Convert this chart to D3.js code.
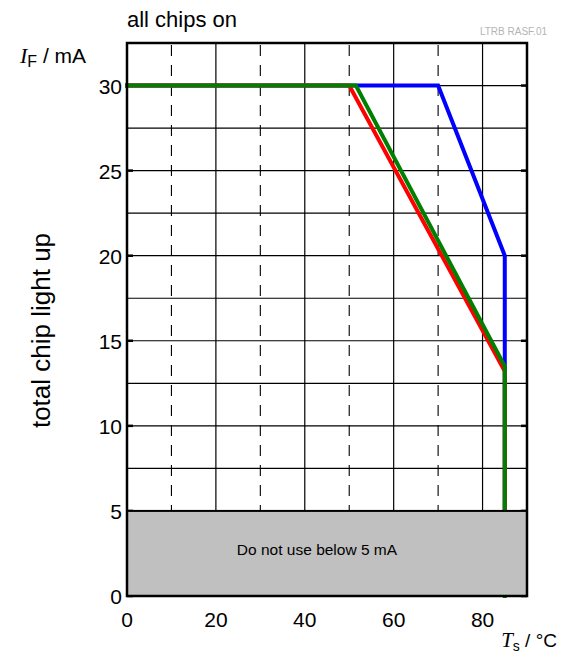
<!DOCTYPE html>
<html>
<head>
<meta charset="utf-8">
<script src="https://cdn.jsdelivr.net/npm/d3@7"></script>
<style>
  body { margin: 0; background: #fff; }
  svg { font-family: "Liberation Sans", Arial, sans-serif; }
</style>
</head>
<body>
<div id="chart"></div>
<script>
  // temperatures (°C) and currents (mA)
  const blueT = [0, 70, 85, 85];
  const blueI = [30, 30, 20, 5];
  const redT = [0, 50, 85, 85];
  const redI = [30, 30, 13.2, 5];
  const greenT = [0, 51.5, 85, 85];
  const greenI = [30, 30, 13.5, 0];

  const xTicks = [0, 20, 40, 60, 80];
  const xDashed = [10, 30, 50, 70];
  const yTicks = [0, 5, 10, 15, 20, 25, 30];
  const yGrid = [2.5, 5, 7.5, 10, 12.5, 15, 17.5, 20, 22.5, 25, 27.5, 30];
  const minCurrent = 5;

  const width = 565, height = 661;
  const plotL = 127, plotR = 527, plotT = 43, plotB = 596;

  const x = d3.scaleLinear().domain([0, 90]).range([plotL, plotR]);
  const y = d3.scaleLinear().domain([0, 32.5]).range([plotB, plotT]);

  const svg = d3.select('#chart').append('svg')
    .attr('width', width)
    .attr('height', height);

  // grid
  svg.selectAll('.hgrid').data(yGrid).enter().append('line')
    .attr('x1', plotL).attr('x2', plotR)
    .attr('y1', d => y(d)).attr('y2', d => y(d))
    .attr('stroke', '#000').attr('stroke-width', 1.2);

  svg.selectAll('.vgrid').data(xTicks.filter(d => d > 0)).enter().append('line')
    .attr('x1', d => x(d)).attr('x2', d => x(d))
    .attr('y1', plotT).attr('y2', plotB)
    .attr('stroke', '#000').attr('stroke-width', 1.2);

  svg.selectAll('.vdash').data(xDashed).enter().append('line')
    .attr('x1', d => x(d)).attr('x2', d => x(d))
    .attr('y1', plotT + 2).attr('y2', plotB)
    .attr('stroke', '#000').attr('stroke-width', 1.1)
    .attr('stroke-dasharray', '11,9');

  // ticks on the frame
  svg.selectAll('.ltick').data(yTicks).enter().append('line')
    .attr('x1', plotL).attr('x2', plotL + 6)
    .attr('y1', d => y(d)).attr('y2', d => y(d))
    .attr('stroke', '#000').attr('stroke-width', 2.5);
  svg.selectAll('.rtick').data(yTicks).enter().append('line')
    .attr('x1', plotR - 6).attr('x2', plotR)
    .attr('y1', d => y(d)).attr('y2', d => y(d))
    .attr('stroke', '#000').attr('stroke-width', 2.5);

  // curves
  const line = d3.line().x(d => x(d[0])).y(d => y(d[1]));
  const series = [
    { t: blueT, i: blueI, color: '#0000ff' },
    { t: redT, i: redI, color: '#ff0000' },
    { t: greenT, i: greenI, color: '#008000' }
  ];
  series.forEach(s => {
    svg.append('path')
      .attr('d', line(d3.zip(s.t, s.i)))
      .attr('fill', 'none')
      .attr('stroke', s.color)
      .attr('stroke-width', 4)
      .attr('stroke-linejoin', 'miter')
      .attr('stroke-linecap', 'square');
  });

  // forbidden area below 5 mA
  svg.append('rect')
    .attr('x', x(0)).attr('y', y(minCurrent))
    .attr('width', x(90) - x(0)).attr('height', y(0) - y(minCurrent))
    .attr('fill', '#c0c0c0')
    .attr('stroke', '#000').attr('stroke-width', 2);

  svg.append('text')
    .attr('x', (x(0) + x(90)) / 2 - 10)
    .attr('y', y(minCurrent / 2) + 2)
    .attr('text-anchor', 'middle')
    .style('font-size', '15.5px')
    .text('Do not use below 5 mA');

  // frame
  svg.append('rect')
    .attr('x', plotL).attr('y', plotT)
    .attr('width', plotR - plotL).attr('height', plotB - plotT)
    .attr('fill', 'none')
    .attr('stroke', '#000').attr('stroke-width', 2.5);

  // tick labels
  svg.selectAll('.xlab').data(xTicks).enter().append('text')
    .attr('x', d => x(d))
    .attr('y', plotB + 31)
    .attr('text-anchor', 'middle')
    .style('font-size', '21px')
    .text(d => d);

  svg.selectAll('.ylab').data(yTicks).enter().append('text')
    .attr('x', plotL - 5)
    .attr('y', d => y(d) + 8)
    .attr('text-anchor', 'end')
    .style('font-size', '21px')
    .text(d => d);

  // titles
  svg.append('text')
    .attr('x', 127).attr('y', 27)
    .style('font-size', '22px')
    .text('all chips on');

  svg.append('text')
    .attr('x', 547).attr('y', 35)
    .attr('text-anchor', 'end')
    .style('font-size', '10px')
    .attr('fill', '#b4b4b4')
    .text('LTRB RASF.01');

  const yLab = svg.append('text')
    .attr('x', 20).attr('y', 63)
    .style('font-size', '21px');
  yLab.append('tspan')
    .style('font-family', '"Liberation Serif", "Times New Roman", serif')
    .style('font-style', 'italic')
    .style('font-size', '22px')
    .text('I');
  yLab.append('tspan').attr('dy', 4).style('font-size', '16px').text('F');
  yLab.append('tspan').attr('dy', -4).text(' / mA');

  svg.append('text')
    .attr('transform', `translate(50,${(plotT + plotB) / 2 + 11}) rotate(-90)`)
    .attr('text-anchor', 'middle')
    .style('font-size', '26px')
    .text('total chip light up');

  const xLab = svg.append('text')
    .attr('x', 557).attr('y', 647)
    .attr('text-anchor', 'end')
    .style('font-size', '19px');
  xLab.append('tspan')
    .style('font-family', '"Liberation Serif", "Times New Roman", serif')
    .style('font-style', 'italic')
    .style('font-size', '21px')
    .text('T');
  xLab.append('tspan').attr('dy', 4).style('font-size', '14px').text('s');
  xLab.append('tspan').attr('dy', -4).text(' / °C');
</script>
</body>
</html>
